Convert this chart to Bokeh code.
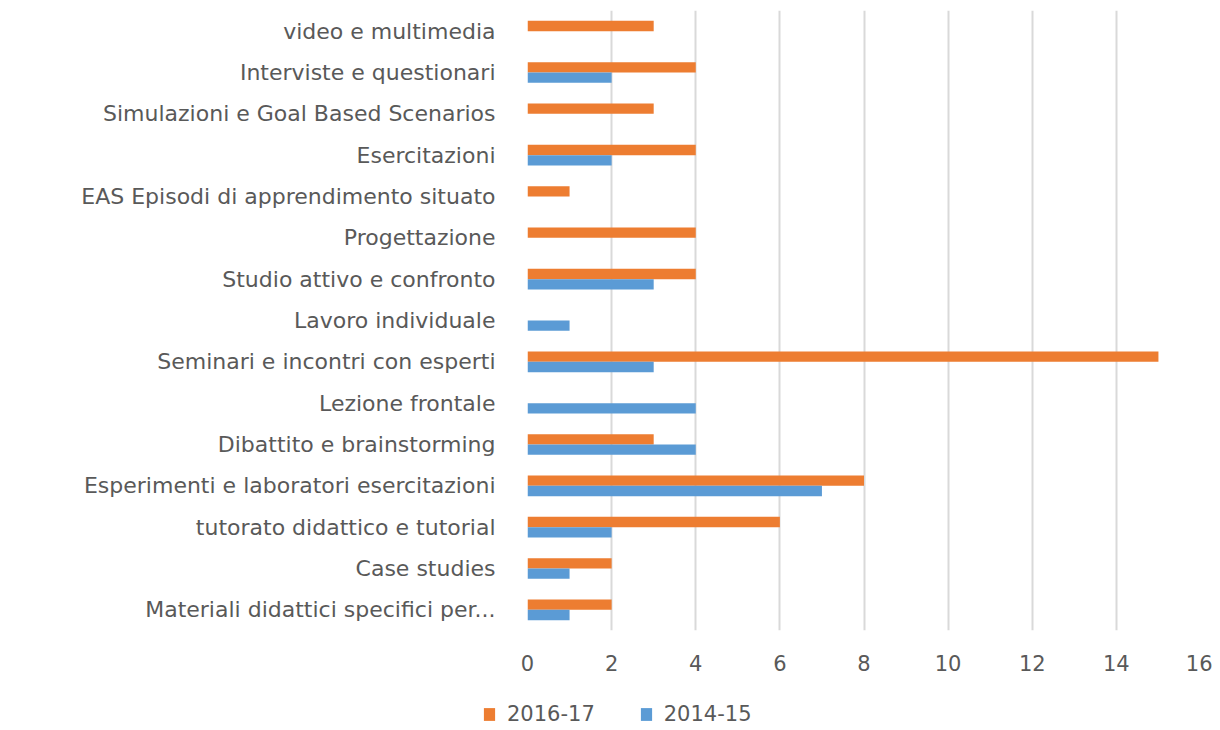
from bokeh.plotting import figure
from bokeh.models import ColumnDataSource, FactorRange, Legend, LegendItem, FixedTicker
from bokeh.transform import dodge
from bokeh.embed import file_html
from bokeh.resources import INLINE

categories = [
    "Materiali didattici specifici per...",
    "Case studies",
    "tutorato didattico e tutorial",
    "Esperimenti e laboratori esercitazioni",
    "Dibattito e brainstorming",
    "Lezione frontale",
    "Seminari e incontri con esperti",
    "Lavoro individuale",
    "Studio attivo e confronto",
    "Progettazione",
    "EAS Episodi di apprendimento situato",
    "Esercitazioni",
    "Simulazioni e Goal Based Scenarios",
    "Interviste e questionari",
    "video e multimedia",
]
values_2016_17 = [2, 2, 6, 8, 3, 0, 15, 0, 4, 4, 1, 4, 3, 4, 3]
values_2014_15 = [1, 1, 2, 7, 4, 4, 3, 1, 3, 0, 0, 2, 0, 2, 0]
x_ticks = [0, 2, 4, 6, 8, 10, 12, 14, 16]
series_labels = ["2016-17", "2014-15"]

ORANGE = "#ED7D31"
BLUE = "#5B9BD5"
TEXT = "#595959"
FONT = "DejaVu Sans"

src = ColumnDataSource(dict(cat=categories, a=values_2016_17, b=values_2014_15))

p = figure(
    width=1212, height=678,
    y_range=FactorRange(factors=categories),
    x_range=(0, 16),
    output_backend="svg", toolbar_location=None,
    min_border_left=527, min_border_right=12, min_border_top=10, min_border_bottom=48,
)
p.outline_line_color = None
p.background_fill_color = "white"
p.border_fill_color = "white"

p.hbar(y=dodge("cat", 0.125, range=p.y_range), right="a", left=0, height=0.25,
       source=src, fill_color=ORANGE, line_color=None)
p.hbar(y=dodge("cat", -0.125, range=p.y_range), right="b", left=0, height=0.25,
       source=src, fill_color=BLUE, line_color=None)

p.xaxis.ticker = FixedTicker(ticks=x_ticks)
p.xgrid.ticker = FixedTicker(ticks=x_ticks)
p.xgrid.grid_line_color = "#D9D9D9"
p.xgrid.grid_line_width = 2
p.ygrid.grid_line_color = None

for ax in (p.xaxis, p.yaxis):
    ax.axis_line_color = None
    ax.major_tick_line_color = None
    ax.minor_tick_line_color = None
    ax.major_label_text_color = TEXT
    ax.major_label_text_font = FONT

p.yaxis.major_label_text_font_size = "22px"
p.yaxis.major_label_standoff = 26
p.xaxis.major_label_text_font_size = "21px"
p.xaxis.major_label_standoff = 18

# Legend strip below the chart (separate root so it is not frame-aligned)
lg = figure(
    width=1212, height=52, x_range=(0, 1), y_range=(1000, 1001),
    output_backend="svg", toolbar_location=None,
    min_border_left=0, min_border_right=0, min_border_top=0, min_border_bottom=0,
)
lg.axis.visible = False
lg.grid.visible = False
lg.outline_line_color = None
# key glyphs share the chart data; the strip's range keeps them out of view
g1 = lg.hbar(y="a", right="a", left=0, height=0.25, source=src, fill_color=ORANGE, line_color=None)
g2 = lg.hbar(y="b", right="b", left=0, height=0.25, source=src, fill_color=BLUE, line_color=None)

legend = Legend(
    items=[LegendItem(label=series_labels[0], renderers=[g1]),
           LegendItem(label=series_labels[1], renderers=[g2])],
    orientation="horizontal",
    location=(482, 4),
    border_line_color=None,
    background_fill_alpha=0,
    label_text_font=FONT,
    label_text_font_size="21px",
    label_text_color=TEXT,
    glyph_width=14, glyph_height=16,
    label_standoff=11, spacing=44,
    padding=0, margin=0,
)
lg.add_layout(legend, "center")

open("out.html", "w").write(file_html([p, lg], INLINE))
